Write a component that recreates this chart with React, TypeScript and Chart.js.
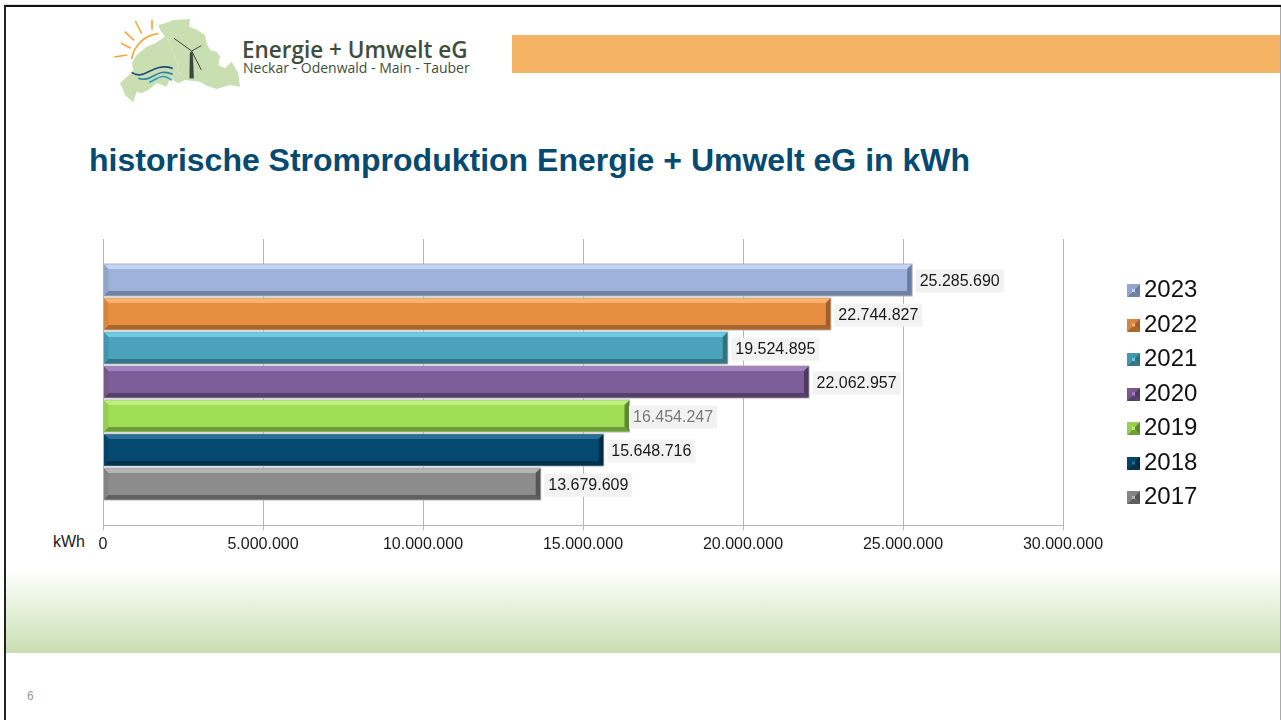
import React, { useEffect, useRef } from "react";
import { Chart, registerables } from "chart.js";

Chart.register(...registerables);

const category = ["Stromproduktion"];
const years = ["2023", "2022", "2021", "2020", "2019", "2018", "2017"];
const production = [25285690, 22744827, 19524895, 22062957, 16454247, 15648716, 13679609];
const tickValues = { min: 0, max: 30000000, step: 5000000 };
// base, top, bottom, left, right
const bevels = [
  ["#9fb2dc", "#c3d4f4", "#70829f", "#92a4cc", "#6a7ca6"],
  ["#e88e42", "#ffb36d", "#a8662f", "#d98540", "#9e5f2a"],
  ["#4aa3bb", "#6ccbe5", "#357585", "#4496ac", "#33707f"],
  ["#7e5e98", "#a383bf", "#54406a", "#75588e", "#4d3a61"],
  ["#9fde55", "#bdf07b", "#6f9c3a", "#94cf50", "#5f8632"],
  ["#04496f", "#2a6f96", "#03324d", "#044368", "#022b43"],
  ["#8c8c8c", "#b4b4b4", "#5f5f5f", "#838383", "#555555"],
];
const labelColors = ["#1a1a1a", "#1a1a1a", "#1a1a1a", "#1a1a1a", "#7a7a7a", "#1a1a1a", "#1a1a1a"];
const labelShift = [0, 0, 0, 0, -4, 0, 0];

const FONT = '"Liberation Sans", Arial, sans-serif';
const fmt = (v: number) => String(v).replace(/\B(?=(\d{3})+$)/g, ".");

function drawBevel(ctx: CanvasRenderingContext2D, x0: number, y0: number, x1: number, y1: number, b: number, c: string[]) {
  ctx.fillStyle = c[0];
  ctx.fillRect(x0, y0, x1 - x0, y1 - y0);
  const poly = (color: string, pts: number[][]) => {
    ctx.fillStyle = color;
    ctx.beginPath();
    pts.forEach((p, i) => (i ? ctx.lineTo(p[0], p[1]) : ctx.moveTo(p[0], p[1])));
    ctx.closePath();
    ctx.fill();
  };
  const bx = Math.min(b, (x1 - x0) / 2);
  const by = Math.min(b, (y1 - y0) / 2);
  poly(c[1], [[x0, y0], [x1, y0], [x1 - bx, y0 + by], [x0 + bx, y0 + by]]);
  poly(c[2], [[x0, y1], [x1, y1], [x1 - bx, y1 - by], [x0 + bx, y1 - by]]);
  poly(c[3], [[x0, y0], [x0 + bx, y0 + by], [x0 + bx, y1 - by], [x0, y1]]);
  poly(c[4], [[x1, y0], [x1 - bx, y0 + by], [x1 - bx, y1 - by], [x1, y1]]);
}

function swatch(c: string[]) {
  const cv = document.createElement("canvas");
  cv.width = 17;
  cv.height = 13;
  const ctx = cv.getContext("2d")!;
  drawBevel(ctx, 4, 0, 17, 13, 5, [c[1], c[3], c[2], c[3], c[4]]);
  return cv;
}

const bevelPlugin = {
  id: "bevelBars",
  afterDatasetsDraw(chart: any) {
    const ctx = chart.ctx;
    ctx.save();
    chart.data.datasets.forEach((ds: any, i: number) => {
      const bar = chart.getDatasetMeta(i).data[0];
      const x0 = bar.base;
      const x1 = bar.x;
      const y0 = bar.y - bar.height / 2;
      const y1 = bar.y + bar.height / 2;
      ctx.fillStyle = "#b4b4b4";
      ctx.fillRect(x0 - 0.5, y0 - 0.5, x1 - x0 + 1, y1 - y0 + 1);
      drawBevel(ctx, x0 + 0.5, y0 + 0.5, x1 - 0.5, y1 - 0.5, 4.5, bevels[i]);
      const text = fmt(ds.data[0]);
      ctx.font = "16px " + FONT;
      const w = ctx.measureText(text).width;
      const yc = bar.y + 1.2;
      const sx = x1 + labelShift[i];
      ctx.fillStyle = "#f2f2f2";
      ctx.fillRect(sx + 3.5, yc - 11.5, w + 8, 23);
      ctx.fillStyle = labelColors[i];
      ctx.textBaseline = "middle";
      ctx.textAlign = "left";
      ctx.fillText(text, sx + 7.5, yc);
    });
    ctx.restore();
  },
};

const legendPlacement = {
  id: "legendPlacement",
  beforeLayout(chart: any) {
    const l = chart.legend;
    if (l && !l.__patched) {
      l.__patched = true;
      const fit = l.fit;
      l.fit = function () {
        fit.call(this);
        this.width = 218;
      };
    }
  },
  afterLayout(chart: any) {
    const l = chart.legend;
    l.left = 1131 - l.options.labels.padding;
    l.top = 278.5 - l.options.labels.padding;
  },
};

const S: Record<string, React.CSSProperties> = {
  page: { position: "fixed", left: 0, top: 0, width: 1281, height: 720, background: "#fff", overflow: "hidden" },
  abs: { position: "absolute" },
};

function Logo() {
  const map =
    "145,30 165,25 190,15 240,12 238,35 262,45 285,60 290,85 300,105 320,110 330,125 325,150 345,160 365,140 385,175 390,215 360,210 320,222 290,212 270,200 225,195 205,205 180,190 170,215 140,205 115,225 95,235 80,230 70,262 45,240 35,215 30,205 62,175 70,165 65,145 80,120 110,95 135,85 165,65 150,45";
  return (
    <svg style={{ ...S.abs, left: 110, top: 15 }} width={130} height={90} viewBox="0 0 390 270">
      <polygon points={map} fill="#c9dfb2" />
      <g fill="none" stroke="#f4a93c" strokeWidth={5}>
        <path d="M65 132 C72 90 105 60 145 56" />
        <path d="M13 126 L52 120 M33 84 L62 100 M44 50 L72 76 M76 18 L95 56 M126 14 L126 44" />
      </g>
      <path d="M170 70 C180 80 190 120 205 150 C200 170 195 165 222 185" fill="none" stroke="#dcebcd" strokeWidth={2} />
      <g fill="none" strokeWidth={5}>
        <path d="M65 172 C105 200 125 140 188 160" stroke="#1f4f7a" />
        <path d="M85 190 C125 205 140 155 188 178" stroke="#2a80b0" />
        <path d="M118 202 C140 195 155 170 185 196" stroke="#2a9ac6" />
      </g>
      <g stroke="#3c463c" fill="#3c463c">
        <polygon points="240,112 248,112 251,190 239,190" />
        <path d="M192 70 L245 108 M245 108 L274 92 M245 108 L274 165" strokeWidth={3} fill="none" />
      </g>
    </svg>
  );
}

export default function App() {
  const ref = useRef<HTMLCanvasElement>(null);
  useEffect(() => {
    const chart = new Chart(ref.current!, {
      type: "bar",
      plugins: [bevelPlugin, legendPlacement],
      data: {
        labels: category,
        datasets: years.map((y, i) => ({
          label: y,
          data: [production[i]],
          backgroundColor: bevels[i][0],
          borderWidth: 0,
          categoryPercentage: 238 / 286,
          barPercentage: 32 / 34,
        })),
      },
      options: {
        indexAxis: "y",
        responsive: false,
        animation: false,
        layout: { padding: { left: 103, top: 239, right: 0, bottom: 0 } },
        scales: {
          y: { display: false },
          x: {
            min: tickValues.min,
            max: tickValues.max,
            afterFit(scale: any) {
              scale.height = 195;
              scale.paddingLeft = 0;
              scale.paddingRight = 0;
            },
            ticks: {
              stepSize: tickValues.step,
              maxRotation: 0,
              autoSkip: false,
              padding: 5,
              color: "#1a1a1a",
              font: { family: FONT, size: 16 },
              callback: (v: any) => fmt(Number(v)),
            },
            grid: { color: "#b4b4b4", lineWidth: 1, tickLength: 5 },
            border: { color: "#b4b4b4" },
          },
        },
        plugins: {
          title: { display: false },
          tooltip: { enabled: false },
          legend: {
            position: "right",
            align: "start",
            labels: {
              usePointStyle: true,
              boxWidth: 1,
              padding: 10.5,
              color: "#111",
              font: { family: FONT, size: 24 },
              generateLabels: (c: any) =>
                c.data.datasets.map((d: any, i: number) => ({
                  text: d.label,
                  datasetIndex: i,
                  fontColor: "#111",
                  fillStyle: d.backgroundColor,
                  strokeStyle: "transparent",
                  lineWidth: 0,
                  pointStyle: swatch(bevels[i]),
                })),
            },
          },
        },
      },
    } as any);
    return () => chart.destroy();
  }, []);

  return (
    <div style={S.page}>
      <div style={{ ...S.abs, left: 3, top: 4, width: 1278, height: 1, background: "#ddd" }} />
      <div style={{ ...S.abs, left: 4, top: 5, width: 1277, height: 2, background: "#111" }} />
      <div style={{ ...S.abs, left: 4, top: 5, width: 2, height: 715, background: "#222" }} />
      <div style={{ ...S.abs, left: 1280, top: 7, width: 1, height: 713, background: "#aaa" }} />
      <div style={{ ...S.abs, left: 512, top: 35, width: 768, height: 38, background: "#f4b464" }} />
      <div style={{ ...S.abs, left: 6, top: 570, width: 1274, height: 83, background: "linear-gradient(#ffffff, #c9dfb2)" }} />
      <Logo />
      <div style={{ ...S.abs, left: 242, top: 34, font: '600 22.5px "Open Sans", sans-serif', color: "#3f4d3c", whiteSpace: "nowrap", lineHeight: "32px" }}>
        Energie + Umwelt eG
      </div>
      <div style={{ ...S.abs, left: 243, top: 59, font: '400 14px "Open Sans", sans-serif', color: "#3f4d3c", whiteSpace: "nowrap", lineHeight: "18px" }}>
        Neckar - Odenwald - Main - Tauber
      </div>
      <div style={{ ...S.abs, left: 89, top: 141, font: `bold 32px ${FONT}`, color: "#054a70", whiteSpace: "nowrap", lineHeight: "38px" }}>
        historische Stromproduktion Energie + Umwelt eG in kWh
      </div>
      <div style={{ ...S.abs, left: 53, top: 533, font: `16px ${FONT}`, color: "#1a1a1a", lineHeight: "18px" }}>kWh</div>
      <div style={{ ...S.abs, left: 27, top: 689, font: `12px ${FONT}`, color: "#9a9a9a", lineHeight: "14px" }}>6</div>
      <canvas ref={ref} width={1281} height={720} style={{ ...S.abs, left: 0, top: 0 }} />
    </div>
  );
}
